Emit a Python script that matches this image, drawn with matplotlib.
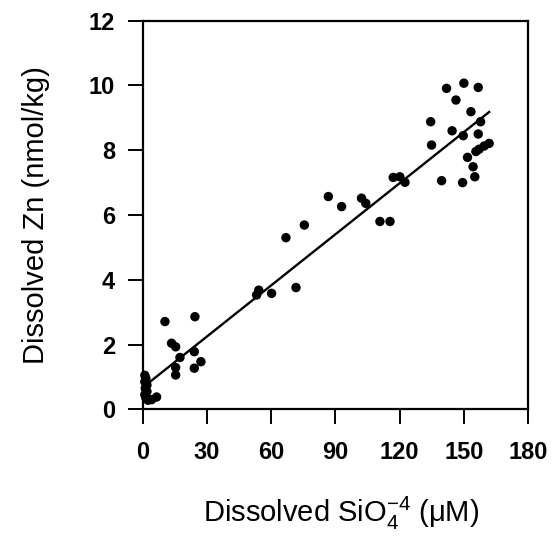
import matplotlib
matplotlib.use("Agg")
import matplotlib.pyplot as plt
import numpy as np

plt.rcParams['font.family'] = ['Liberation Sans', 'DejaVu Sans']
plt.rcParams['mathtext.default'] = 'regular'

# Dissolved silicate (uM)
si = [1.0, 1.5, 1.0, 2.0, 1.2, 2.0, 1.0, 1.5, 2.5, 4.2, 6.5,
      10.4, 24.4, 13.5, 15.4, 24.1, 17.4, 27.2, 15.4, 24.1, 15.4,
      53.2, 54.2, 60.2, 71.6, 66.9, 75.5, 86.7, 92.9, 102.2, 104.2,
      110.8, 115.5, 117.0, 120.1, 122.5,
      141.9, 150.0, 156.7, 146.3, 153.3, 134.5, 157.8, 144.5, 149.7,
      156.7, 134.9, 161.8, 159.5, 157.1, 155.6, 151.7, 154.3, 155.1,
      139.6, 149.4]
# Dissolved Zn (nmol/kg)
zn = [1.05, 0.95, 0.85, 0.75, 0.65, 0.55, 0.45, 0.35, 0.28, 0.30, 0.38,
      2.71, 2.86, 2.04, 1.93, 1.78, 1.60, 1.47, 1.29, 1.27, 1.06,
      3.53, 3.68, 3.58, 3.76, 5.30, 5.69, 6.57, 6.26, 6.52, 6.36,
      5.80, 5.80, 7.16, 7.18, 7.01,
      9.91, 10.07, 9.94, 9.55, 9.19, 8.88, 8.88, 8.60, 8.45,
      8.50, 8.16, 8.21, 8.13, 8.03, 7.96, 7.78, 7.49, 7.18,
      7.06, 7.00]

# regression line Zn = slope * Si + intercept
slope = 0.0526
intercept = 0.67
fit_range = [3.5, 161.8]

xticks = [0, 30, 60, 90, 120, 150, 180]
yticks = [0, 2, 4, 6, 8, 10, 12]

fig = plt.figure(figsize=(5.53, 5.40), dpi=100)
ax = fig.add_axes([0.258, 0.242, 0.697, 0.7197])

ax.scatter(si, zn, s=46, color='black', edgecolors='none', zorder=3, clip_on=False)
fx = np.array(fit_range)
ax.plot(fx, slope * fx + intercept, color='black', lw=1.7, zorder=2)

ax.set_xlim(0, 180)
ax.set_ylim(0, 12)
ax.set_xticks(xticks)
ax.set_yticks(yticks)
ax.set_xticklabels([str(v) for v in xticks])
ax.set_yticklabels([str(v) for v in yticks])
for lab in ax.get_xticklabels() + ax.get_yticklabels():
    lab.set_fontweight('bold')
    lab.set_fontsize(17)

ax.tick_params(axis='both', direction='out', length=11, width=1.4)
ax.tick_params(axis='x', pad=12)
ax.tick_params(axis='y', pad=9)
for sp in ax.spines.values():
    sp.set_linewidth(1.6)

ax.set_xlabel(r'Dissolved SiO$_4^{-4}$ ($\mu$M)', fontsize=21, labelpad=22)
ax.xaxis.label.set_x(0.515)
ax.set_ylabel('Dissolved Zn (nmol/kg)', fontsize=21, labelpad=28)

fig.savefig('out.png', dpi=100)
